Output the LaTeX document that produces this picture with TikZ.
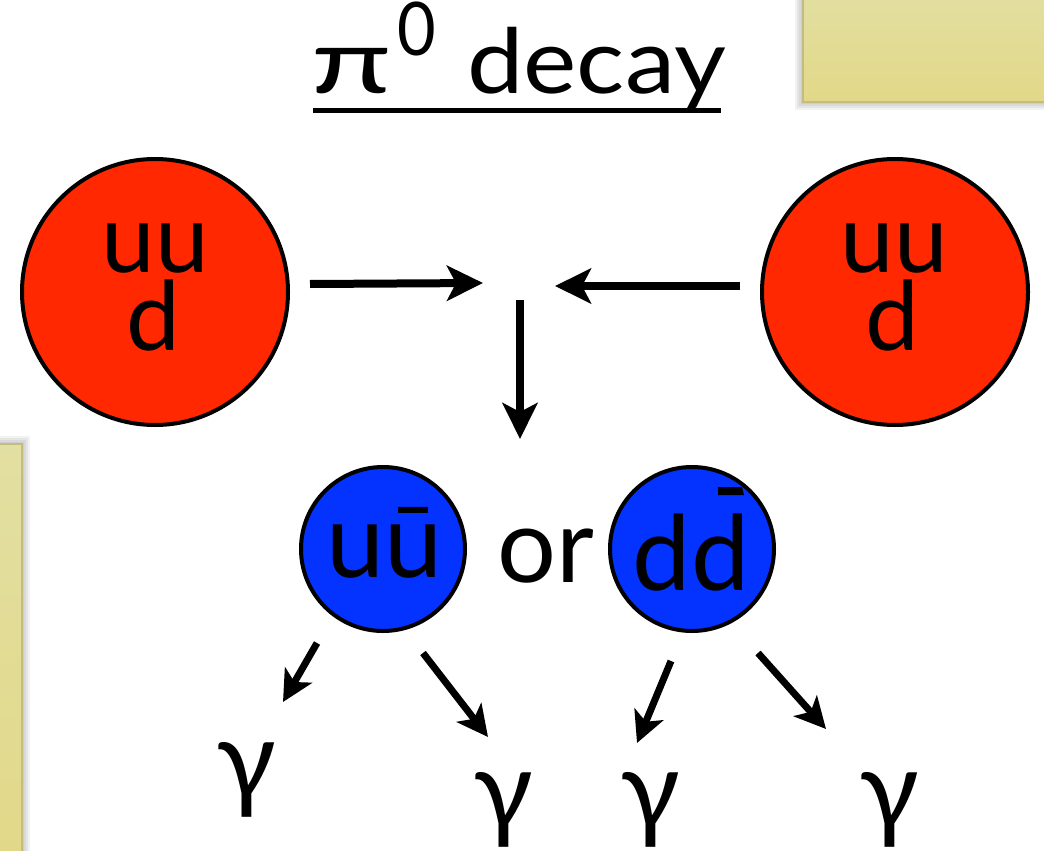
\documentclass[tikz,border=0pt]{standalone}
\usepackage{fontspec}
\setmainfont{Lato}
\usetikzlibrary{arrows.meta}
\definecolor{protonred}{RGB}{255,40,0}
\definecolor{pionblue}{RGB}{4,51,255}
\definecolor{notetop}{RGB}{226,223,162}
\definecolor{notebot}{RGB}{226,216,136}
\definecolor{noteedge}{RGB}{196,189,128}
\begin{document}
\begin{tikzpicture}[x=1pt,y=-1pt,
  proton/.style={circle,draw=black,line width=4pt,fill=protonred,minimum size=266pt,inner sep=0pt},
  pion/.style={circle,draw=black,line width=4pt,fill=pionblue,minimum size=164pt,inner sep=0pt},
  quark/.style={font=\fontsize{96}{96}\selectfont,anchor=base,inner sep=0pt},
  quarkup/.style={quark,text height=52pt,text depth=0pt},
  quarkdown/.style={quark,text height=64pt,text depth=0pt},
  bigtext/.style={font=\fontsize{104}{104}\selectfont,anchor=base,inner sep=0pt},
  photon/.style={font=\fontsize{110}{110}\selectfont,anchor=base,inner sep=0pt,text depth=18pt},
  bigarrow/.style={line width=8pt,-{Stealth[length=36pt,width=35pt,inset=9pt]}},
  smallarrow/.style={line width=7pt,-{Stealth[length=31pt,width=31pt,inset=8pt]}},
  note/.style={top color=notetop,bottom color=notebot,draw=noteedge,line width=2pt},
  shadowbox/.style={fill=black,opacity=0.05}
]
\useasboundingbox (0,0) rectangle (1044,851);
\fill[white] (0,0) rectangle (1044,851);

% sticky notes with soft shadows
\foreach \d in {2,4,6,8}{
  \fill[shadowbox] (803-\d,-20) rectangle (1060,102+\d);
  \fill[shadowbox] (-20,444-\d) rectangle (22+\d,870);
}
\path[note] (803,-10) rectangle (1060,102);
\path[note] (-10,444) rectangle (22,870);

% title
\node[anchor=base west,inner sep=0pt,font=\fontsize{90}{90}\selectfont] (title) at (311,93)
  {\makebox[86pt][l]{\scalebox{1.45}[1]{π}}\makebox[70pt][l]{\raisebox{38pt}{\fontsize{74}{74}\selectfont\scalebox{0.9}[1]{0}}}\scalebox{1.12}[1]{decay}};
\coordinate (ulA) at (313,110);
\coordinate (ulB) at (721,110);
\draw[line width=5pt] (ulA) -- (ulB);

% protons
\node[proton] (pL) at (155,292) {};
\node[proton] (pR) at (895,292) {};
\node[quarkup] (pLu) at (155,272) {uu};
\node[quarkdown] (pLd) at (153,350) {d};
\node[quarkup] (pRu) at (894,272) {uu};
\node[quarkdown] (pRd) at (892,350) {d};

% collision arrows
\coordinate (lA) at (310,284);
\coordinate (lB) at (483,283);
\coordinate (rA) at (740,286);
\coordinate (rB) at (555,286);
\coordinate (vA) at (520,300);
\coordinate (vB) at (520,439);
\draw[bigarrow] (lA) -- (lB);
\draw[bigarrow] (rA) -- (rB);
\draw[bigarrow] (vA) -- (vB);

% pions
\node[pion] (piU) at (383,549) {};
\node[pion] (piD) at (692,549) {};
\node[bigtext] (piUt) at (384,577) {uū};
\node[bigtext] (orT) at (546,582) {or};
\node[bigtext] (piDt) at (691,590) {dd};
\fill (718,487) -- (742,487) -- (744,495) -- (718,495) -- cycle;

% photons
\node[photon] (g1) at (246,798) {γ};
\node[photon] (g2) at (503,828) {γ};
\node[photon] (g3) at (650,828) {γ};
\node[photon] (g4) at (889,828) {γ};

\coordinate (d1A) at (317,643);
\coordinate (d1B) at (283,702);
\coordinate (d2A) at (423,653);
\coordinate (d2B) at (488,737);
\coordinate (d3A) at (671,661);
\coordinate (d3B) at (637,743);
\coordinate (d4A) at (758,653);
\coordinate (d4B) at (826,729);
\draw[smallarrow] (d1A) -- (d1B);
\draw[smallarrow] (d2A) -- (d2B);
\draw[smallarrow] (d3A) -- (d3B);
\draw[smallarrow] (d4A) -- (d4B);
\end{tikzpicture}
\end{document}
